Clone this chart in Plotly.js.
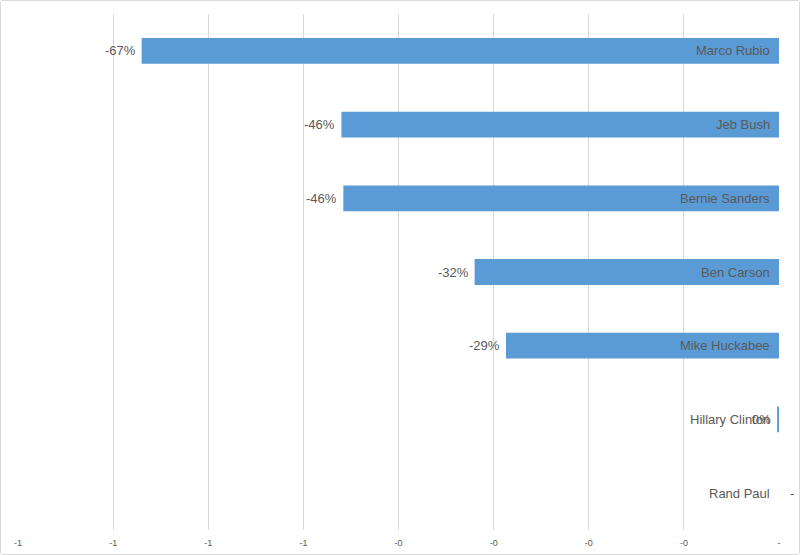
<!DOCTYPE html>
<html>
<head>
<meta charset="utf-8">
<script src="https://cdn.plot.ly/plotly-3.0.1.min.js"></script>
<style>
html,body{margin:0;padding:0;background:#fff;}
#wrap{width:800px;height:555px;box-sizing:border-box;border:1px solid #d9d9d9;border-radius:3px;overflow:hidden;}
#chart{width:798px;height:553px;}
</style>
</head>
<body>
<div id="wrap"><div id="chart"></div></div>
<script>
const candidates = ["Marco Rubio","Jeb Bush","Bernie Sanders","Ben Carson","Mike Huckabee","Hillary Clinton","Rand Paul"];
const changes = [-0.67,-0.46,-0.458,-0.32,-0.287,-0.002,0];
const xTickVals = [-0.8,-0.7,-0.6,-0.5,-0.4,-0.3,-0.2,-0.1,0];
const xTickText = ["-1","-1","-1","-1","-0","-0","-0","-0","-"];

const labelText = changes.map(v => v === 0 ? "-" : (String(Math.round(v*100)) + "%"));
const fontFam = 'Liberation Sans, Arial, sans-serif';

const valueAnnotations = candidates.map((c,i) => ({
  x: changes[i], y: c, xref: 'x', yref: 'y',
  text: labelText[i], showarrow: false,
  xanchor: changes[i] === 0 ? 'left' : 'right',
  xshift: changes[i] === 0 ? 9 : -4,
  font: {family: fontFam, size: 13, color: '#595959'}
}));

const nameAnnotations = candidates.map((c,i) => ({
  x: 0, y: c, xref: 'x', yref: 'y',
  text: c, showarrow: false,
  xanchor: 'right', xshift: -7,
  font: {family: fontFam, size: 13, color: '#595959'}
}));

const trace = {
  type: 'bar', orientation: 'h',
  x: changes, y: candidates,
  width: 0.35,
  marker: {color: '#5B9BD5', line: {width: 0}},
  hoverinfo: 'none'
};

const layout = {
  width: 798, height: 553,
  margin: {l: 17, r: 20, t: 13, b: 24},
  paper_bgcolor: '#ffffff', plot_bgcolor: '#ffffff',
  showlegend: false,
  font: {family: fontFam, color: '#595959'},
  xaxis: {
    range: [-0.8, 0], tickvals: xTickVals, ticktext: xTickText,
    showgrid: true, gridcolor: '#D9D9D9', gridwidth: 1,
    zeroline: false, showline: false, ticks: '',
    tickfont: {size: 9, color: '#595959'}, ticklabelstandoff: 6, fixedrange: true
  },
  yaxis: {
    type: 'category', autorange: 'reversed',
    showticklabels: false, ticks: '', showgrid: false, zeroline: false, showline: false,
    fixedrange: true
  },
  annotations: nameAnnotations.concat(valueAnnotations)
};

Plotly.newPlot('chart', [trace], layout, {displayModeBar: false, staticPlot: true});
</script>
</body>
</html>
